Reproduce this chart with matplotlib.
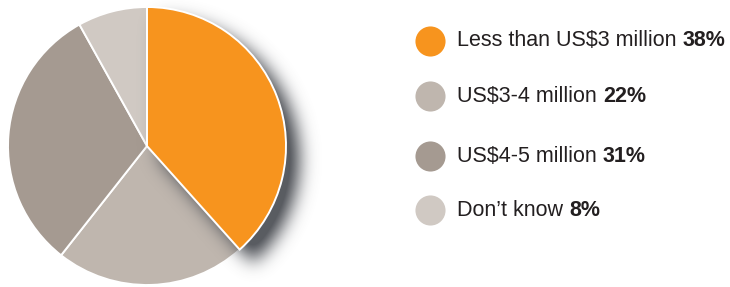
import numpy as np
import matplotlib.pyplot as plt

plt.rcParams['font.family'] = ['Liberation Sans', 'DejaVu Sans']

labels = ['Less than US$3 million', 'US$3-4 million', 'US$4-5 million', "Don\u2019t know"]
shares = [38, 22, 31, 8]
colors = ['#f7941e', '#bfb6ae', '#a59a91', '#d0c9c3']
legend_y = [41, 96, 156, 210]   # legend rows, pixels from top

W, H = 730, 287
fig = plt.figure(figsize=(W / 100, H / 100), dpi=100)
ax = fig.add_axes([0, 0, 1, 1])

wedges, _ = ax.pie(shares, colors=colors, startangle=90, counterclock=False,
                   center=(147, H - 146), radius=139,
                   wedgeprops=dict(edgecolor='white', linewidth=1.4))
for i, w in enumerate(wedges):
    w.set_zorder(1 if i else 3)

# soft drop shadow cast by the orange slice
xx, yy = np.meshgrid(np.arange(W) + 0.5, np.arange(H) + 0.5)
pts = np.column_stack([xx.ravel() - 13, yy.ravel() + 13])
mask = wedges[0].get_path().contains_points(pts).reshape(H, W).astype(float)
sig = 9.0
k = np.exp(-0.5 * (np.arange(-28, 29) / sig) ** 2)
k /= k.sum()
blur = np.apply_along_axis(lambda r: np.convolve(r, k, mode='same'), 1, mask)
blur = np.apply_along_axis(lambda c: np.convolve(c, k, mode='same'), 0, blur)
shadow = np.zeros((H, W, 4))
shadow[..., :3] = np.array([0x4a, 0x4d, 0x53]) / 255
shadow[..., 3] = np.clip(blur * 1.1, 0, 0.92)
ax.imshow(shadow, extent=(0, W, 0, H), origin='lower', zorder=2, interpolation='bilinear')

# legend
for lab, sh, c, y in zip(labels, shares, colors, legend_y):
    ax.scatter(430, H - y, s=470, color=c, zorder=4, linewidths=0)
    t = ax.text(457, H - y, lab + ' ', fontsize=15.5, color='#231f20', va='center')
    ax.annotate(f'{sh}%', xy=(1, 0), xycoords=t, va='bottom', ha='left',
                fontsize=15.5, fontweight='bold', color='#231f20')

ax.set_xlim(0, W)
ax.set_ylim(0, H)
ax.set_aspect('auto')
ax.axis('off')

fig.savefig('out.png', dpi=100)
